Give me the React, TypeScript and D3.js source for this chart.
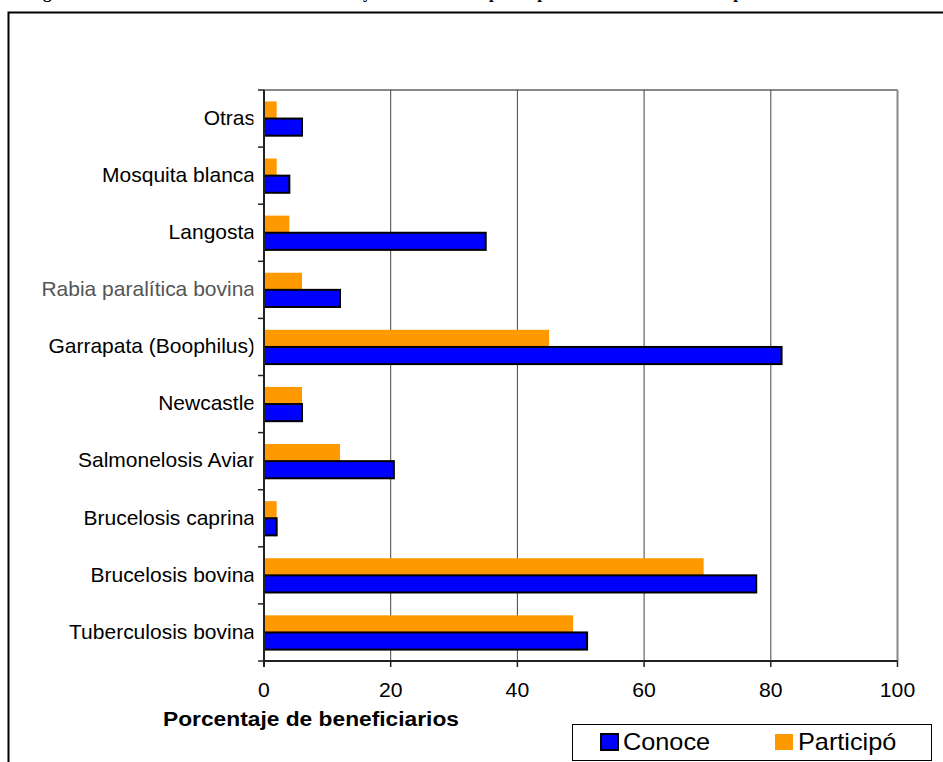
import React, { useEffect } from "react";
import * as d3 from "d3";

const categories = [
  "Otras",
  "Mosquita blanca",
  "Langosta",
  "Rabia paralítica bovina",
  "Garrapata (Boophilus)",
  "Newcastle",
  "Salmonelosis Aviar",
  "Brucelosis caprina",
  "Brucelosis bovina",
  "Tuberculosis bovina",
];
const conoce = [6, 4, 35, 12, 81.7, 6, 20.5, 2, 77.7, 51];
const participo = [2, 2, 4, 6, 45, 6, 12, 2, 69.4, 48.8];
const xTicks = [0, 20, 40, 60, 80, 100];
const seriesNames = ["Conoce", "Participó"];

const W = 943;
const H = 762;
const left = 264;
const right = 897.5;
const top = 90;
const bottom = 661;
const sans = "'Liberation Sans', Arial, sans-serif";

export default function App() {
  useEffect(() => {
    document.body.style.margin = "0";
  }, []);

  const x = d3.scaleLinear().domain([0, 100]).range([left, right]);
  const y = d3.scaleBand().domain(categories).range([top, bottom]).paddingInner(0).paddingOuter(0);
  const bw = y.bandwidth();
  const barH = bw * 0.3;
  const off = (bw - 2 * barH) / 2;

  return (
    <svg width={W} height={H} style={{ display: "block", background: "#fff" }}>
      <defs>
        <clipPath id="lblclip">
          <rect x={0} y={0} width={253.5} height={H} />
        </clipPath>
      </defs>
      {/* cut-off title */}
      <text y={-2} fontFamily="'Liberation Serif', 'Times New Roman', serif" fontWeight="bold" fontSize={17} fill="#000">
        <tspan x={28}>Figura 5. Enfermedades conocidas</tspan>
        <tspan x={363}>y</tspan>
        <tspan x={489}>participación en las</tspan>
        <tspan x={703}>campañas</tspan>
      </text>
      {/* outer frame */}
      <rect x={8.5} y={12.5} width={W + 20} height={H + 20} fill="none" stroke="#000" strokeWidth={2} />

      {/* plot border top/right */}
      <line x1={left} x2={right} y1={top} y2={top} stroke="#888" strokeWidth={2} />
      <line x1={right} x2={right} y1={top} y2={bottom} stroke="#888" strokeWidth={2} />
      {/* gridlines */}
      {xTicks.slice(1, -1).map((t) => (
        <line key={t} x1={x(t)} x2={x(t)} y1={top} y2={bottom} stroke="#444" strokeWidth={1} />
      ))}

      {/* bars */}
      {categories.map((c, i) => {
        const y0 = (y(c) as number) + off;
        return (
          <g key={c}>
            <rect x={x(0)} y={y0} width={x(participo[i]) - x(0)} height={barH} fill="#FF9900" />
            <rect
              x={x(0)}
              y={y0 + barH}
              width={x(conoce[i]) - x(0)}
              height={barH}
              fill="#0000FF"
              stroke="#000"
              strokeWidth={2}
            />
          </g>
        );
      })}

      {/* y axis */}
      <line x1={left} x2={left} y1={top} y2={bottom + 6} stroke="#222" strokeWidth={2} />
      {d3.range(categories.length + 1).map((k) => {
        const yy = top + k * bw;
        return <line key={k} x1={left - 6} x2={left} y1={yy} y2={yy} stroke="#222" strokeWidth={1.5} />;
      })}
      <g clipPath="url(#lblclip)">
        {categories.map((c) => (
          <text
            key={c}
            transform={`translate(255,${(y(c) as number) + bw / 2 - 1}) scale(1.05,1)`}
            textAnchor="end"
            dominantBaseline="central"
            fontFamily={sans}
            fontSize={20}
            fill={c.startsWith("Rabia") ? "#555" : "#000"}
          >
            {c}
          </text>
        ))}
      </g>

      {/* x axis */}
      <line x1={left} x2={right} y1={bottom} y2={bottom} stroke="#222" strokeWidth={2} />
      {xTicks.map((t) => (
        <g key={t}>
          <line x1={x(t)} x2={x(t)} y1={bottom} y2={bottom + 6} stroke="#222" strokeWidth={1.5} />
          <text
            transform={`translate(${x(t)},697) scale(1.06,1)`}
            textAnchor="middle"
            fontFamily={sans}
            fontSize={20}
            fill="#000"
          >
            {t}
          </text>
        </g>
      ))}
      <text
        x={163}
        y={726}
        textLength={296}
        lengthAdjust="spacingAndGlyphs"
        fontFamily={sans}
        fontWeight="bold"
        fontSize={20}
        fill="#000"
      >
        Porcentaje de beneficiarios
      </text>

      {/* legend */}
      <rect x={572.5} y={724.5} width={359} height={36} fill="#fff" stroke="#000" strokeWidth={1} />
      <rect x={601} y={734} width={17} height={16} fill="#0000FF" stroke="#000" strokeWidth={2} />
      <text transform="translate(623,750) scale(1.1,1)" fontFamily={sans} fontSize={23} fill="#000">
        {seriesNames[0]}
      </text>
      <rect x={775} y={734} width={18} height={16} fill="#FF9900" />
      <text transform="translate(798,750) scale(1.1,1)" fontFamily={sans} fontSize={23} fill="#000">
        {seriesNames[1]}
      </text>
    </svg>
  );
}
